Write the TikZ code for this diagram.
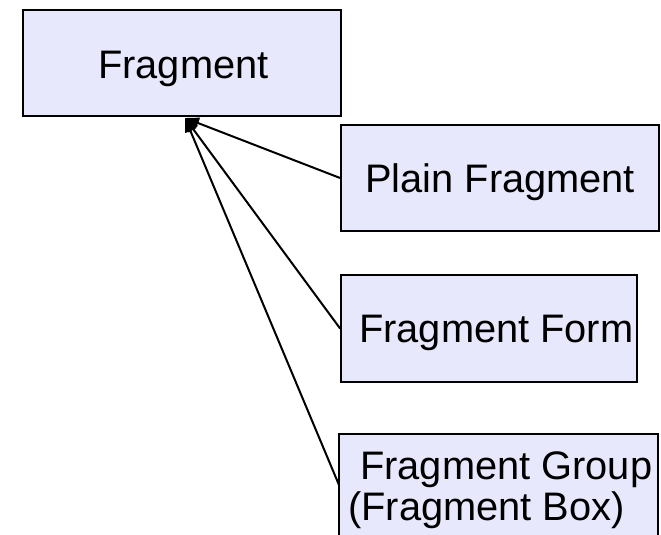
\documentclass[tikz,border=0pt]{standalone}
\usepackage{fontspec}
\setmainfont{Liberation Sans}
\usetikzlibrary{arrows.meta}
\definecolor{boxfill}{RGB}{232,232,252}
\begin{document}
\begin{tikzpicture}[x=1bp,y=-1bp,
  cls/.style={draw=black,line width=1.8bp,fill=boxfill,rectangle,inner sep=0pt,
    font=\fontsize{39.8bp}{41bp}\selectfont},
  lbl/.style={inner sep=0pt,font=\fontsize{39.8bp}{41bp}\selectfont,anchor=base west},
  gen/.style={draw=black,line width=2bp,-{Triangle[length=14bp,width=11bp]}}]
\useasboundingbox[fill=white] (0,0) rectangle (661,535);
\node[cls,minimum width=318bp,minimum height=106bp] (frag) at (182,63) {};
\node[lbl] (fragt) at (98,79) {Fragment};
\node[cls,minimum width=318bp,minimum height=106bp] (pf) at (500,178) {};
\node[lbl] (pft) at (365,193) {Plain Fragment};
\node[cls,minimum width=296bp,minimum height=107bp] (ff) at (489,328.5) {};
\node[lbl] (fft) at (359,342) {Fragment Form};
\node[cls,minimum width=319bp,minimum height=110bp] (fg) at (498.5,489) {};
\node[lbl] (fgt1) at (360,479) {Fragment Group};
\node[lbl] (fgt2) at (348,520) {(Fragment Box)};
\coordinate (tip) at (185,118);
\coordinate (fgend) at (339,485);
\draw[gen] (pf.west) -- (tip);
\draw[gen] (ff.west) -- (tip);
\draw[gen] (fgend) -- (tip);
\end{tikzpicture}
\end{document}
